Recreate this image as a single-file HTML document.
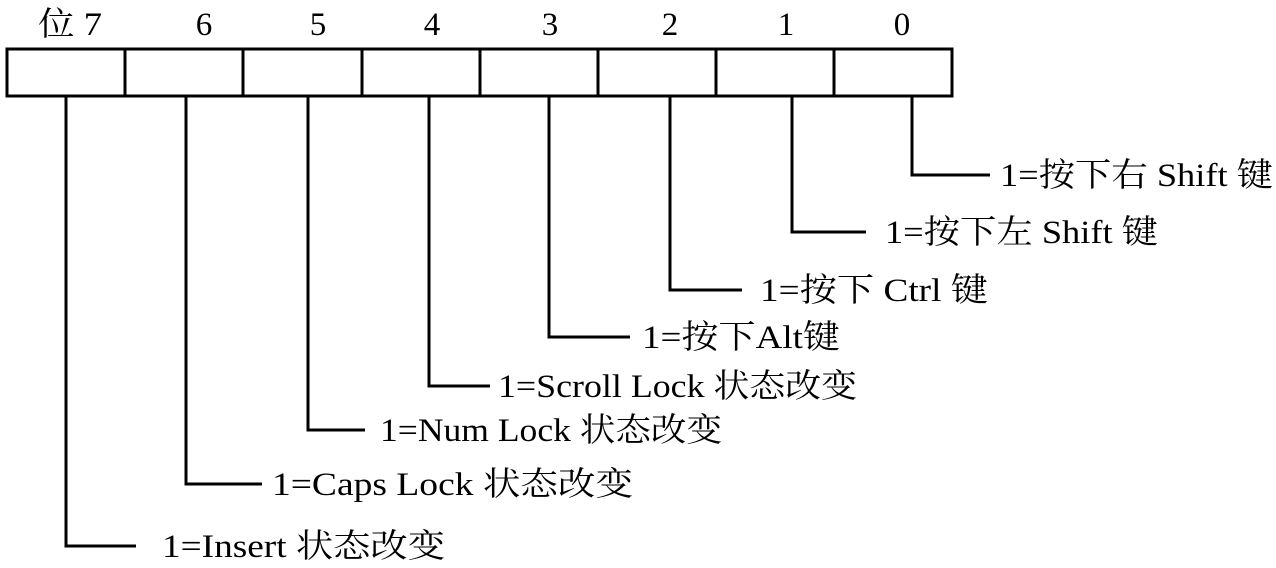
<!DOCTYPE html>
<html><head><meta charset="utf-8"><style>html,body{margin:0;padding:0;background:#fff}svg{display:block}</style></head>
<body>
<svg width="1276" height="568" viewBox="0 0 1276 568" xmlns="http://www.w3.org/2000/svg" font-family="'Liberation Serif','Noto Serif CJK SC','Noto Sans CJK SC',serif" font-size="33" fill="#000">
<g stroke="#000" stroke-width="3" fill="none">
<rect x="7" y="49" width="945" height="47"/>
<line x1="125" y1="49" x2="125" y2="96"/><line x1="243" y1="49" x2="243" y2="96"/>
<line x1="362" y1="49" x2="362" y2="96"/><line x1="480" y1="49" x2="480" y2="96"/>
<line x1="598" y1="49" x2="598" y2="96"/><line x1="716" y1="49" x2="716" y2="96"/>
<line x1="834" y1="49" x2="834" y2="96"/>
<polyline points="66,96 66,546 136,546"/>
<polyline points="186,96 186,484 262,484"/>
<polyline points="308,96 308,430 365,430"/>
<polyline points="429,96 429,386 490,386"/>
<polyline points="549,96 549,337 630,337"/>
<polyline points="670,96 670,290 742,290"/>
<polyline points="792,96 792,232 866,232"/>
<polyline points="912,96 912,175 990,175"/>
</g>
<g text-anchor="middle">
<text x="70" y="35" textLength="64" lengthAdjust="spacingAndGlyphs">位 7</text>
<text x="204" y="35">6</text><text x="318" y="35">5</text><text x="432" y="35">4</text>
<text x="550" y="35">3</text><text x="670" y="35">2</text><text x="786" y="35">1</text><text x="902" y="35">0</text>
</g>
<text x="1000" y="186" textLength="273" lengthAdjust="spacingAndGlyphs">1=按下右 Shift 键</text>
<text x="885" y="243" textLength="273" lengthAdjust="spacingAndGlyphs">1=按下左 Shift 键</text>
<text x="760" y="301" textLength="228" lengthAdjust="spacingAndGlyphs">1=按下 Ctrl 键</text>
<text x="642" y="348" textLength="198" lengthAdjust="spacingAndGlyphs">1=按下Alt键</text>
<text x="498" y="397" textLength="359" lengthAdjust="spacingAndGlyphs">1=Scroll Lock 状态改变</text>
<text x="380" y="441" textLength="342" lengthAdjust="spacingAndGlyphs">1=Num Lock 状态改变</text>
<text x="272" y="495" textLength="361" lengthAdjust="spacingAndGlyphs">1=Caps Lock 状态改变</text>
<text x="162" y="557" textLength="283" lengthAdjust="spacingAndGlyphs">1=Insert 状态改变</text>
</svg>
</body></html>
